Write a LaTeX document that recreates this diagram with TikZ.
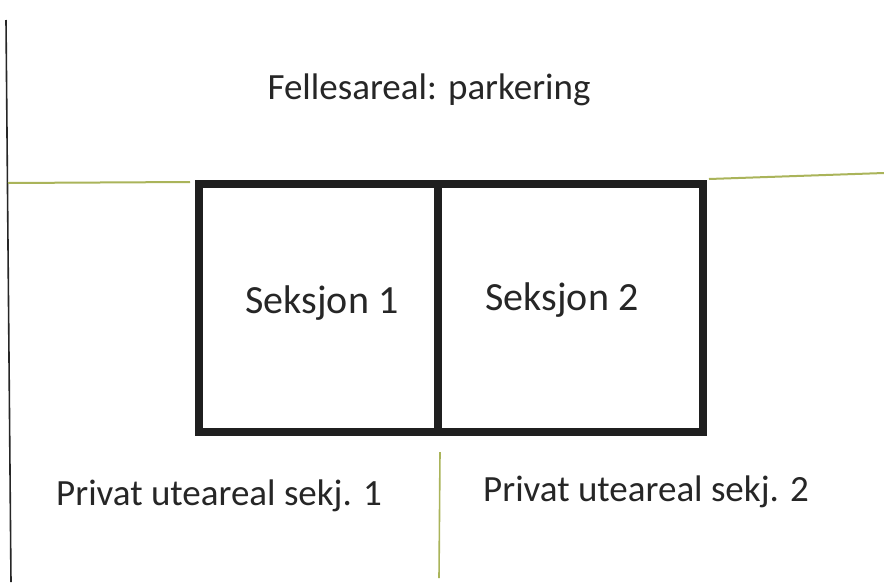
\documentclass[tikz,border=0pt]{standalone}
\usepackage{fontspec}
\setmainfont{Carlito}
\begin{document}
\begin{tikzpicture}[x=1pt,y=-1pt,
  lbl/.style={inner sep=0pt,font=\fontsize{37}{44}\selectfont,text=black!85},
  big/.style={lbl,font=\fontsize{40}{48}\selectfont},
  thin/.style={line width=1.6pt,black!85},
  grn/.style={line width=2pt,color={rgb,255:red,170;green,180;blue,90}},
  wall/.style={line width=8pt,black!88}]
\useasboundingbox[fill=white] (0,0) rectangle (884,582);
\coordinate (lt) at (6,20);
\coordinate (lb) at (11,582);
\draw[thin] (lt) -- (lb);
\coordinate (gl1) at (8,183);
\coordinate (gl2) at (190,182);
\draw[grn] (gl1) -- (gl2);
\coordinate (gr1) at (709,179);
\coordinate (gr2) at (884,173);
\draw[grn] (gr1) -- (gr2);
\coordinate (a) at (199,184);
\coordinate (b) at (703,184);
\coordinate (c) at (703,432);
\coordinate (d) at (199,432);
\draw[wall] (a) -- (b) -- (c) -- (d) -- cycle;
\coordinate (m1) at (438,184);
\coordinate (m2) at (438,432);
\draw[wall] (m1) -- (m2);
\coordinate (v1) at (440,452);
\coordinate (v2) at (439,578);
\draw[grn,line width=1.6pt] (v1) -- (v2);
\node[lbl] (fell) at (429,90) {Fellesareal: parkering};
\node[big] (s1) at (322,303) {Seksjon 1};
\node[big] (s2) at (562,300) {Seksjon 2};
\node[lbl] (p1) at (219,496) {Privat uteareal sekj. 1};
\node[lbl] (p2) at (646,492) {Privat uteareal sekj. 2};
\end{tikzpicture}
\end{document}
